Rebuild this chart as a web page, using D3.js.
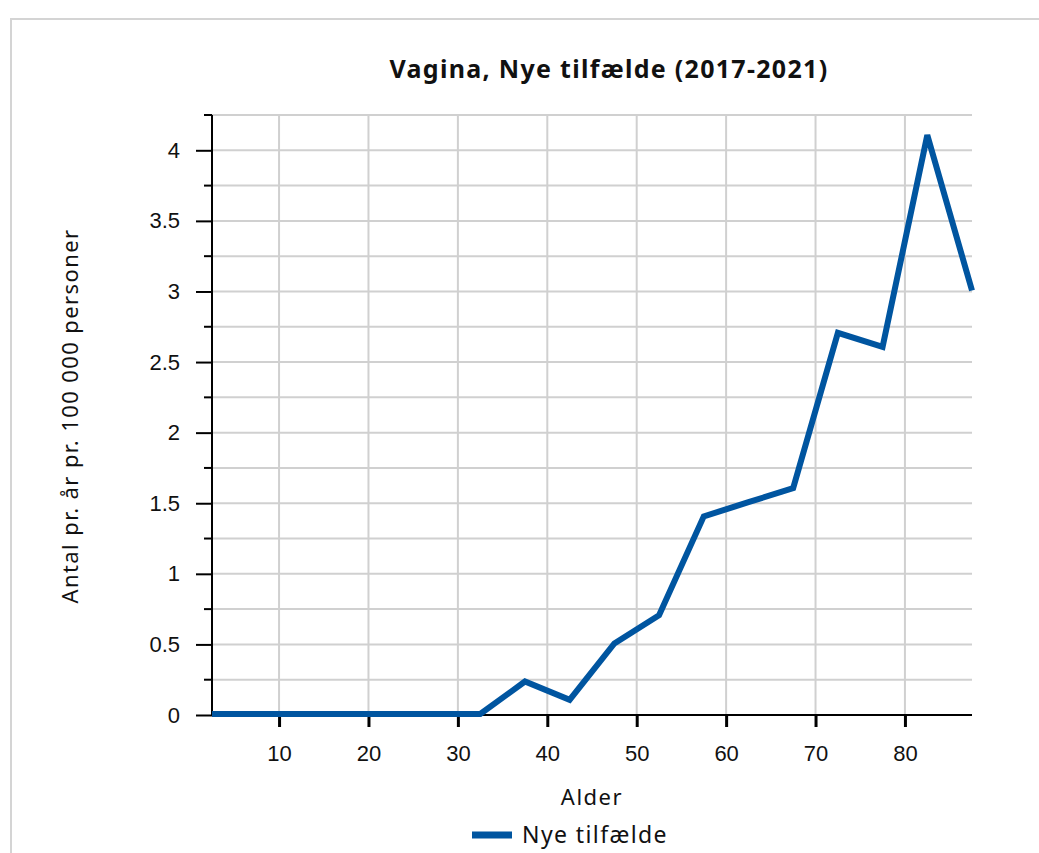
<!DOCTYPE html>
<html>
<head>
<meta charset="utf-8">
<title>Vagina, Nye tilfælde</title>
<script src="https://cdn.jsdelivr.net/npm/d3@7"></script>
<style>
  body { margin: 0; background: #fff; }
  .grid line { stroke: #d0d0d0; stroke-width: 2px; }
</style>
</head>
<body>
<svg width="1039" height="853"></svg>
<script>
var ages = [2.5, 7.5, 12.5, 17.5, 22.5, 27.5, 32.5, 37.5, 42.5, 47.5, 52.5, 57.5, 62.5, 67.5, 72.5, 77.5, 82.5, 87.5];
var rates = [0, 0, 0, 0, 0, 0, 0, 0.23, 0.1, 0.5, 0.7, 1.4, 1.5, 1.6, 2.7, 2.6, 4.1, 3.0];
var xTicks = [10, 20, 30, 40, 50, 60, 70, 80];
var yTicks = [0, 0.5, 1, 1.5, 2, 2.5, 3, 3.5, 4];
var yMinor = [0.25, 0.75, 1.25, 1.75, 2.25, 2.75, 3.25, 3.75, 4.25];

var svg = d3.select("svg");

// frame
svg.append("rect")
  .attr("x", 11).attr("y", 19)
  .attr("width", 1100).attr("height", 900)
  .attr("fill", "none").attr("stroke", "#d4d4d4").attr("stroke-width", 2);

var x = d3.scaleLinear().domain([2.5, 87.5]).range([212, 972]);
var y = d3.scaleLinear().domain([0, 4.25]).range([715, 115]);

// grid
svg.append("g").attr("class", "grid")
  .selectAll("line").data(yTicks.concat(yMinor)).enter().append("line")
  .attr("x1", 212).attr("x2", 972)
  .attr("y1", function(d) { return y(d); }).attr("y2", function(d) { return y(d); });
svg.append("g").attr("class", "grid")
  .selectAll("line").data(xTicks).enter().append("line")
  .attr("y1", 115).attr("y2", 715)
  .attr("x1", function(d) { return x(d); }).attr("x2", function(d) { return x(d); });

function styleTicks(g) {
  g.selectAll(".tick text")
    .attr("font-family", "'Liberation Sans', Arial, sans-serif")
    .attr("font-size", 22)
    .attr("fill", "#111");
}

// y axis
svg.append("g")
  .attr("transform", "translate(212,0)")
  .call(d3.axisLeft(y).tickValues(yTicks).tickSize(16).tickPadding(16).tickFormat(d3.format("")))
  .call(function(g) {
    g.select(".domain").attr("stroke", "#000").attr("stroke-width", 2).attr("d", "M0,115V716");
    g.selectAll(".tick line").attr("stroke", "#000").attr("stroke-width", 2);
    styleTicks(g);
  });
svg.append("g")
  .selectAll("line").data(yMinor).enter().append("line")
  .attr("x1", 204).attr("x2", 212)
  .attr("y1", function(d) { return y(d); }).attr("y2", function(d) { return y(d); })
  .attr("stroke", "#000").attr("stroke-width", 2);

// x axis
svg.append("g")
  .attr("transform", "translate(0,715)")
  .call(d3.axisBottom(x).tickValues(xTicks).tickSize(12).tickPadding(18))
  .call(function(g) {
    g.select(".domain").attr("stroke", "#000").attr("stroke-width", 2).attr("d", "M211,0H972");
    g.selectAll(".tick line").attr("stroke", "#000").attr("stroke-width", 3);
    styleTicks(g);
  });

// line
var line = d3.line()
  .x(function(d, i) { return x(ages[i]); })
  .y(function(d) { return y(d) - 1; });
svg.append("path")
  .datum(rates)
  .attr("d", line)
  .attr("fill", "none")
  .attr("stroke", "#0055a0")
  .attr("stroke-width", 6)
  .attr("stroke-linejoin", "miter");

// title
svg.append("text")
  .attr("x", 609).attr("y", 78)
  .attr("text-anchor", "middle")
  .attr("font-family", "'Noto Sans', sans-serif")
  .attr("font-weight", "bold")
  .attr("font-size", 25)
  .attr("letter-spacing", 1.3)
  .attr("fill", "#111")
  .text("Vagina, Nye tilfælde (2017-2021)");

// axis labels
svg.append("text")
  .attr("x", 592).attr("y", 805)
  .attr("text-anchor", "middle")
  .attr("font-family", "'Noto Sans', sans-serif")
  .attr("font-size", 22)
  .attr("letter-spacing", 1.5)
  .attr("fill", "#111")
  .text("Alder");

svg.append("text")
  .attr("transform", "translate(78,416) rotate(-90)")
  .attr("text-anchor", "middle")
  .attr("font-family", "'Noto Sans', sans-serif")
  .attr("font-size", 22)
  .attr("letter-spacing", 1.4)
  .attr("fill", "#111")
  .text("Antal pr. år pr. 100 000 personer");

// legend
svg.append("line")
  .attr("x1", 472).attr("x2", 512)
  .attr("y1", 835).attr("y2", 835)
  .attr("stroke", "#0055a0").attr("stroke-width", 7);
svg.append("text")
  .attr("x", 522).attr("y", 843)
  .attr("font-family", "'Noto Sans', sans-serif")
  .attr("font-size", 23)
  .attr("letter-spacing", 1.4)
  .attr("fill", "#111")
  .text("Nye tilfælde");
</script>
</body>
</html>
